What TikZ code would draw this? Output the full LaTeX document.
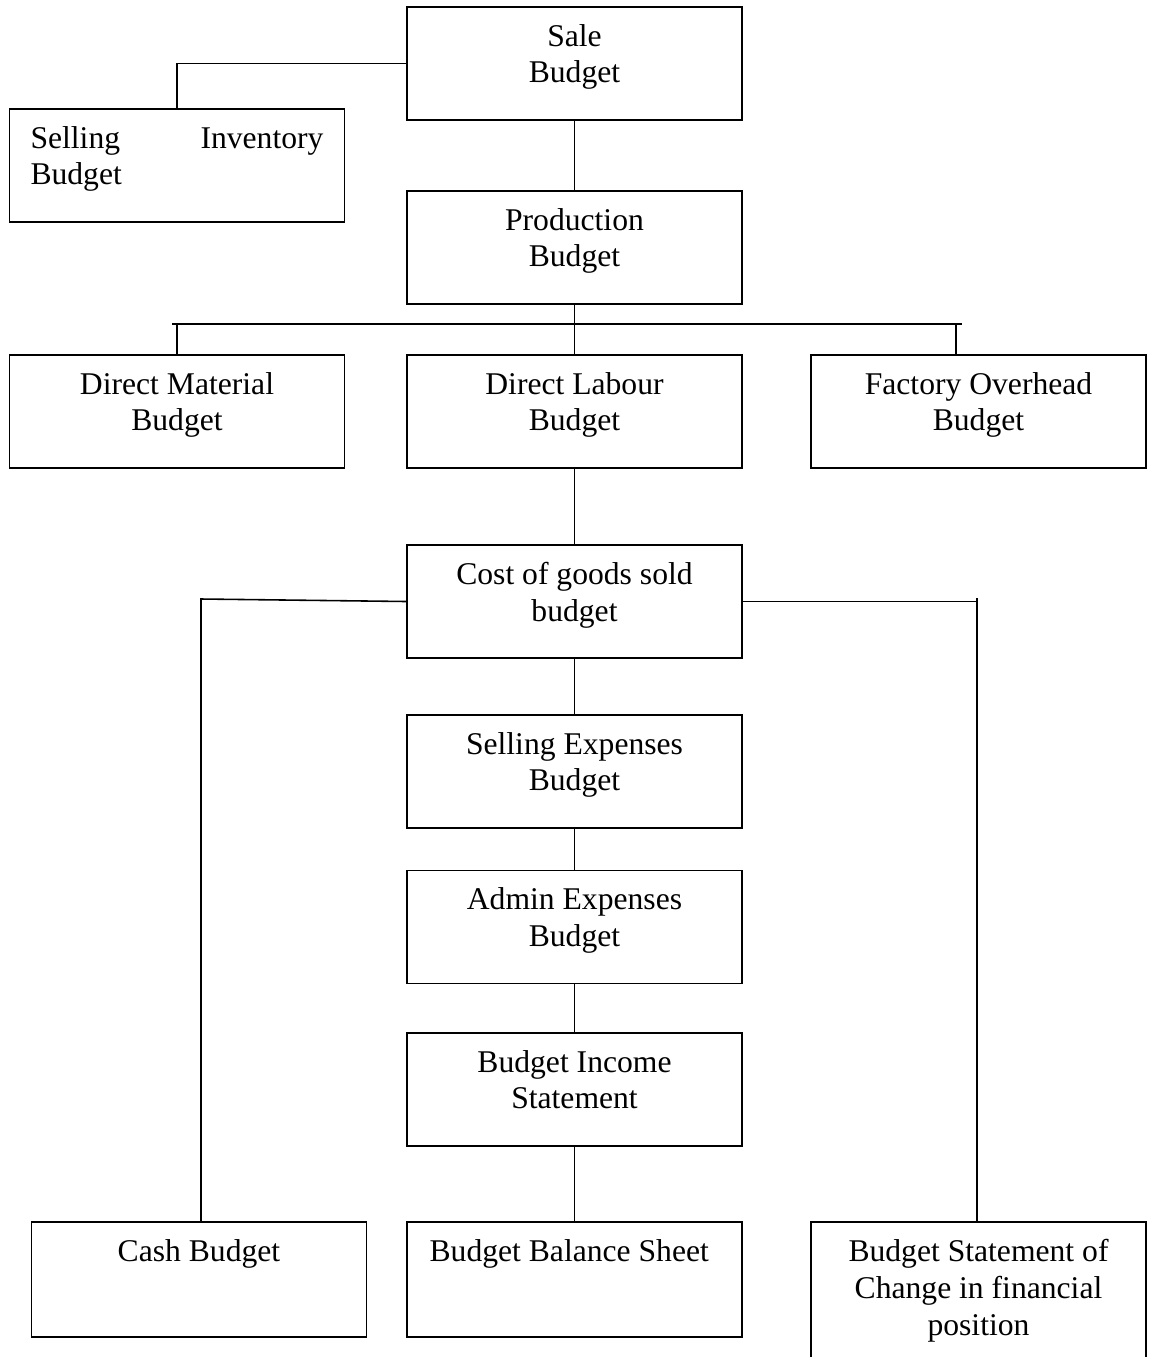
\documentclass[tikz,border=0pt]{standalone}
\usepackage{fontspec}
\setmainfont{Liberation Serif}
\usetikzlibrary{positioning}

\tikzset{
  box/.style={draw, line width=0.9pt, minimum width=6.7cm, minimum height=2.26cm, inner sep=0pt},
  boxtext/.style={anchor=north, align=center, inner sep=0pt, yshift=-0.35cm,
    font=\fontsize{18}{21}\selectfont},
  link/.style={line width=0.9pt}
}

\begin{document}
\begin{tikzpicture}[x=0.02cm, y=-0.02cm]
  \useasboundingbox (0,0) rectangle (1149,1357);

  % boxes
  \node[box] (sale) at (574.5, 63.5) {};
  \node[box] (selinv) at (177, 165.5) {};
  \node[box] (prod) at (574.5, 247.5) {};
  \node[box] (dmat) at (177, 411.5) {};
  \node[box] (dlab) at (574.5, 411.5) {};
  \node[box] (foh) at (978.5, 411.5) {};
  \node[box] (cogs) at (574.5, 601.5) {};
  \node[box] (sexp) at (574.5, 771.5) {};
  \node[box] (aexp) at (574.5, 927) {};
  \node[box] (bis) at (574.5, 1089.5) {};
  \node[box, minimum height=2.3cm] (cash) at (199, 1279.5) {};
  \node[box, minimum height=2.3cm] (bbs) at (574.5, 1279.5) {};
  \node[box, minimum height=2.8cm] (bscf) at (978.5, 1292) {};

  % texts
  \node[boxtext] (sale-t) at (sale.north) {Sale\\Budget};
  \node[boxtext, align=left, text width=5.86cm] (selinv-t) at (selinv.north) {Selling\hfill Inventory\\Budget};
  \node[boxtext] (prod-t) at (prod.north) {Production\\Budget};
  \node[boxtext] (dmat-t) at (dmat.north) {Direct Material\\Budget};
  \node[boxtext] (dlab-t) at (dlab.north) {Direct Labour\\Budget};
  \node[boxtext] (foh-t) at (foh.north) {Factory Overhead\\Budget};
  \node[boxtext] (cogs-t) at (cogs.north) {Cost of goods sold\\budget};
  \node[boxtext] (sexp-t) at (sexp.north) {Selling Expenses\\Budget};
  \node[boxtext] (aexp-t) at (aexp.north) {Admin Expenses\\Budget};
  \node[boxtext] (bis-t) at (bis.north) {Budget Income\\Statement};
  \node[boxtext] (cash-t) at (cash.north) {Cash Budget};
  \node[boxtext] (bbs-t) at ([xshift=-3pt]bbs.north) {Budget Balance Sheet};
  \node[boxtext] (bscf-t) at (bscf.north) {Budget Statement of\\Change in financial\\position};

  % connectors
  \draw[link] (sale.west) -| (selinv.north);
  \draw[link] (sale.south) -- (prod.north);

  \coordinate (barl) at (172, 324);
  \coordinate (barr) at (962, 324);
  \coordinate (fohdrop) at (956, 324);
  \draw[link] (barl) -- (barr);
  \draw[link] (prod.south) -- (prod.south |- barl);
  \draw[link] (dmat.north |- barl) -- (dmat.north);
  \draw[link] (dlab.north |- barl) -- (dlab.north);
  \draw[link] (fohdrop) -- (fohdrop |- foh.north);

  \draw[link] (dlab.south) -- (cogs.north);

  \coordinate (cl) at (201, 599);
  \coordinate (cr) at (977, 598);
  \draw[link] (cogs.west) -- (cl) -- (cl |- cash.north);
  \draw[link] (cogs.east) -- (cr |- cogs.east);
  \draw[link] (cr) -- (cr |- bscf.north);

  \draw[link] (cogs.south) -- (sexp.north);
  \draw[link] (sexp.south) -- (aexp.north);
  \draw[link] (aexp.south) -- (bis.north);
  \draw[link] (bis.south) -- (bbs.north);
\end{tikzpicture}
\end{document}
